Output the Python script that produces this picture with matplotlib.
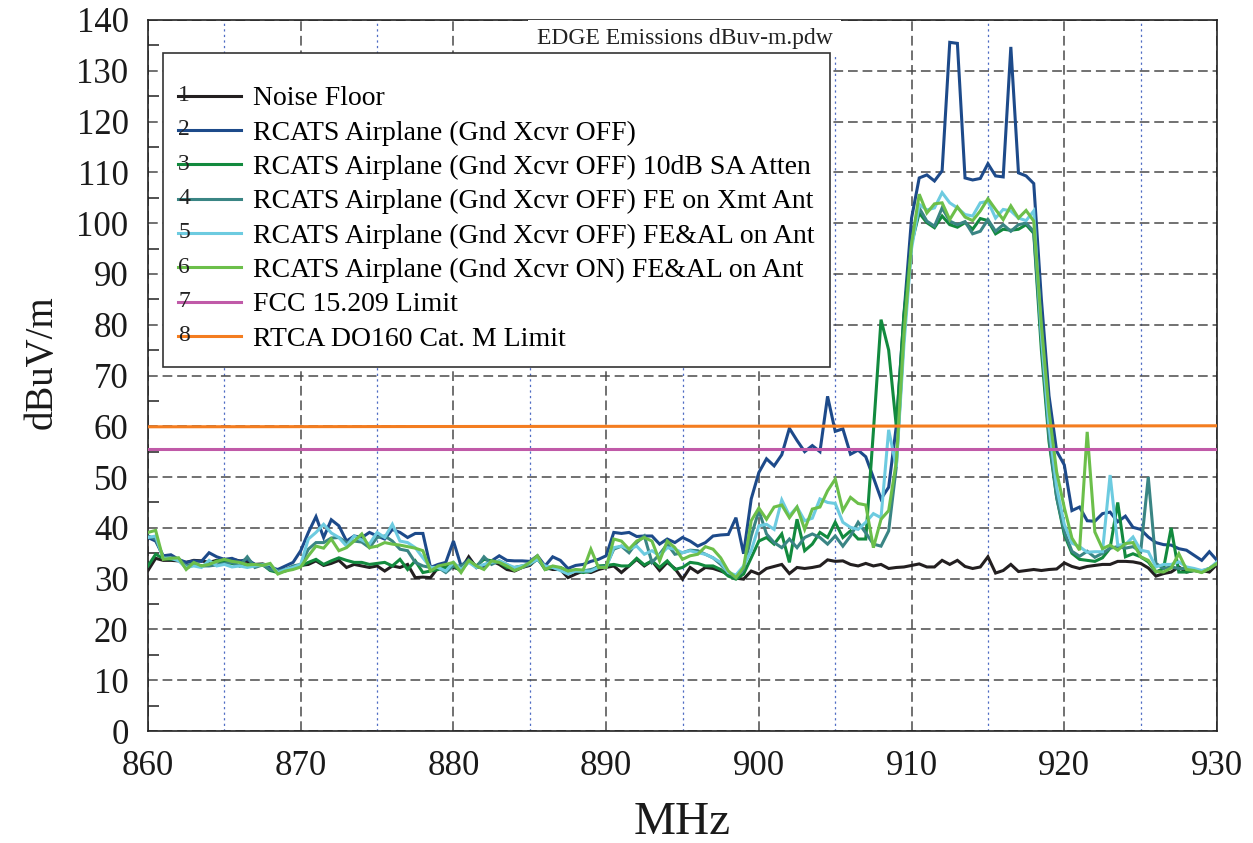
import numpy as np
import matplotlib
matplotlib.use("Agg")
import matplotlib.pyplot as plt
from matplotlib.legend_handler import HandlerLine2D
from matplotlib.text import Text
from matplotlib.ticker import MultipleLocator

plt.rcParams['font.family'] = ['Liberation Serif', 'DejaVu Serif']
plt.rcParams['lines.scale_dashes'] = False

# ---------------- data ----------------
freq_start, freq_stop, n_points = 860.0, 930.0, 141
freq = np.linspace(freq_start, freq_stop, n_points)   # sweep grid, 0.5 MHz steps

noise_floor = [
    31.6, 34.0, 33.6, 33.6, 33.5, 33.2, 33.6, 33.5, 33.2, 33.6,
    33.4, 33.8, 33.5, 33.4, 32.8, 32.9, 32.5, 31.5, 31.8, 32.2,
    32.6, 32.8, 33.5, 32.6, 33.0, 33.6, 32.2, 32.8, 32.5, 32.2,
    32.5, 31.5, 32.5, 32.2, 32.8, 30.2, 30.3, 30.2, 32.2, 32.5,
    32.2, 31.8, 34.3, 32.2, 32.5, 33.5, 32.8, 31.8, 31.5, 32.2,
    32.6, 34.0, 32.2, 31.8, 31.8, 30.2, 30.9, 31.5, 31.2, 31.8,
    32.2, 32.5, 31.2, 32.5, 33.8, 32.5, 33.5, 31.6, 33.2, 32.0,
    29.9, 32.2, 31.2, 32.2, 32.0, 31.5, 30.9, 30.1, 29.9, 31.5,
    30.9, 32.0, 32.4, 32.8, 31.0, 32.2, 32.0, 32.2, 32.5, 33.7,
    33.4, 33.5, 32.8, 32.5, 33.0, 32.5, 32.8, 32.0, 32.2, 32.3,
    32.6, 32.9, 32.3, 32.3, 33.6, 32.8, 33.6, 32.4, 32.0, 32.3,
    34.3, 31.1, 31.6, 32.8, 31.4, 31.6, 31.8, 31.6, 31.8, 31.9,
    33.1, 32.4, 32.0, 32.4, 32.6, 32.8, 32.8, 33.4, 33.4, 33.3,
    33.0, 32.1, 30.5, 31.0, 31.3, 32.3, 31.3, 31.6, 31.6, 31.3,
    32.8]

gnd_off = [
    38.1, 37.4, 34.5, 34.7, 33.8, 33.2, 33.5, 33.4, 35.1, 34.3,
    33.8, 34.0, 33.4, 33.8, 32.8, 32.7, 32.2, 31.8, 32.5, 33.2,
    35.5, 39.1, 42.2, 38.1, 41.6, 40.4, 37.4, 38.4, 38.1, 39.1,
    38.4, 37.8, 39.7, 39.1, 38.1, 38.9, 38.9, 32.2, 32.8, 33.2,
    37.4, 32.5, 33.8, 32.2, 32.5, 33.5, 34.5, 33.6, 33.5, 33.5,
    33.4, 34.5, 32.5, 34.3, 33.6, 32.0, 32.6, 32.8, 33.4, 33.8,
    34.5, 39.1, 38.9, 39.1, 38.3, 38.4, 38.4, 36.8, 37.8, 37.1,
    38.1, 37.4, 36.4, 37.1, 38.4, 38.6, 38.7, 42.0, 34.9, 45.7,
    50.9, 53.6, 52.2, 54.4, 59.6, 57.2, 55.0, 56.2, 55.0, 65.9,
    59.0, 59.5, 54.5, 55.3, 54.0, 49.9, 45.7, 48.0, 60.0, 82.0,
    101.0, 108.9, 109.5, 108.3, 110.3, 135.6, 135.4, 108.9, 108.5, 108.8,
    111.7, 109.3, 109.1, 134.7, 109.9, 109.3, 107.8, 85.0, 66.0, 55.1,
    52.4, 43.4, 44.1, 41.4, 41.3, 42.8, 43.1, 41.2, 42.3, 40.1,
    39.7, 38.2, 37.1, 36.7, 36.6, 35.9, 35.6, 34.6, 33.6, 35.3,
    33.6]

gnd_off_10db = [
    32.5, 34.8, 34.0, 33.8, 34.0, 32.0, 32.8, 32.5, 32.7, 33.5,
    33.2, 33.0, 32.5, 32.8, 32.5, 32.8, 31.6, 31.2, 31.5, 32.2,
    32.5, 33.2, 33.8, 32.8, 33.5, 34.1, 33.6, 33.2, 33.2, 32.8,
    33.0, 33.2, 32.5, 33.8, 31.8, 33.5, 31.2, 31.5, 31.8, 32.2,
    32.5, 31.5, 33.5, 32.5, 33.8, 33.5, 33.2, 32.2, 32.2, 32.5,
    32.8, 34.1, 31.8, 32.2, 32.2, 31.5, 31.5, 31.2, 31.5, 32.5,
    32.6, 32.8, 32.5, 32.5, 34.0, 32.7, 33.5, 32.2, 33.5, 31.8,
    32.2, 33.2, 33.0, 32.5, 32.5, 31.8, 30.5, 29.9, 30.9, 34.1,
    37.4, 38.1, 36.8, 38.8, 33.2, 41.7, 35.5, 36.8, 39.1, 38.1,
    41.1, 38.1, 39.4, 37.8, 37.8, 59.0, 81.0, 75.0, 60.0, 82.0,
    96.0, 102.0, 100.1, 99.1, 101.4, 99.7, 99.2, 100.1, 98.8, 100.9,
    100.5, 97.9, 98.8, 98.6, 98.8, 99.7, 98.0, 75.0, 57.0, 46.0,
    38.7, 35.0, 33.8, 33.6, 33.4, 34.1, 36.0, 45.0, 34.3, 34.9,
    34.3, 33.3, 31.3, 32.0, 40.0, 31.3, 31.3, 31.6, 31.3, 32.0,
    33.0]

gnd_off_fe_xmt = [
    38.4, 37.8, 34.1, 34.1, 33.8, 32.5, 33.0, 32.5, 32.5, 32.7,
    33.0, 33.2, 32.5, 34.3, 32.2, 32.7, 31.8, 31.5, 31.8, 32.5,
    32.8, 35.8, 37.1, 37.1, 38.0, 38.1, 37.1, 37.4, 37.2, 36.1,
    38.1, 38.4, 37.4, 35.8, 35.5, 33.2, 32.5, 32.2, 32.2, 31.2,
    32.5, 32.5, 33.5, 32.2, 34.3, 32.8, 33.5, 32.8, 31.8, 32.2,
    32.8, 33.8, 32.2, 32.3, 31.8, 31.2, 31.5, 31.5, 31.8, 32.2,
    32.5, 35.8, 36.4, 35.1, 37.1, 38.4, 33.2, 34.8, 36.8, 34.8,
    35.1, 35.6, 35.5, 34.8, 34.1, 32.8, 31.2, 30.2, 31.8, 38.4,
    43.4, 38.8, 37.1, 36.1, 37.8, 36.1, 38.1, 38.8, 38.1, 36.8,
    38.4, 36.4, 38.4, 41.1, 39.0, 36.8, 36.4, 39.4, 52.0, 78.0,
    96.0, 103.0, 100.4, 99.4, 103.0, 100.4, 99.7, 100.3, 97.9, 98.4,
    100.7, 98.4, 99.7, 98.4, 99.7, 100.0, 98.4, 77.0, 58.0, 46.0,
    39.3, 35.4, 34.4, 35.4, 34.2, 35.0, 36.0, 36.3, 36.0, 36.3,
    35.3, 50.0, 33.0, 32.0, 32.3, 32.0, 32.0, 31.6, 31.5, 32.0,
    33.0]

gnd_off_feal = [
    38.1, 38.4, 34.0, 34.0, 33.5, 32.2, 32.5, 32.2, 33.6, 32.5,
    32.8, 32.3, 32.5, 32.2, 32.5, 32.7, 32.8, 31.2, 31.8, 32.2,
    32.8, 37.8, 39.1, 40.7, 39.0, 38.1, 36.4, 38.4, 37.6, 36.8,
    39.1, 38.1, 40.7, 37.4, 37.1, 36.1, 34.1, 32.2, 32.2, 31.5,
    33.2, 31.8, 33.2, 32.2, 32.8, 33.2, 33.5, 32.8, 32.2, 32.5,
    33.0, 33.8, 32.5, 32.2, 31.6, 30.9, 31.5, 31.5, 31.5, 32.2,
    32.2, 36.1, 36.4, 35.8, 36.4, 34.8, 35.5, 34.5, 36.1, 35.8,
    35.1, 35.5, 35.1, 34.8, 34.1, 33.2, 31.2, 30.7, 32.5, 35.5,
    40.4, 40.7, 39.7, 45.5, 42.4, 44.1, 41.4, 41.9, 45.7, 45.0,
    44.8, 41.1, 40.1, 39.7, 41.1, 42.8, 42.0, 59.3, 52.0, 76.0,
    95.0, 103.7, 102.6, 103.0, 106.0, 104.0, 103.0, 101.7, 101.4, 104.0,
    104.3, 101.0, 102.7, 102.4, 101.0, 100.5, 102.4, 78.0, 60.0, 48.0,
    40.7, 37.0, 36.3, 35.2, 35.3, 35.3, 50.4, 36.6, 36.7, 38.2,
    35.6, 35.3, 32.3, 32.8, 32.8, 33.3, 32.3, 32.0, 31.6, 32.0,
    33.3]

gnd_on_feal = [
    39.1, 39.5, 33.8, 34.0, 34.1, 31.8, 33.2, 32.5, 32.8, 33.4,
    33.8, 33.4, 33.2, 32.7, 32.8, 32.6, 33.0, 30.9, 31.5, 31.8,
    32.3, 34.5, 36.4, 36.0, 37.8, 35.5, 36.1, 37.4, 38.8, 36.1,
    36.4, 37.1, 36.8, 36.6, 36.3, 36.0, 35.5, 31.5, 32.5, 32.8,
    33.2, 31.2, 33.6, 32.5, 31.8, 33.5, 33.2, 32.5, 31.6, 32.2,
    33.2, 34.5, 31.8, 32.5, 32.2, 31.5, 31.8, 31.7, 35.8, 32.2,
    32.2, 37.8, 37.4, 35.8, 37.4, 38.1, 37.4, 33.5, 37.4, 36.1,
    33.8, 34.5, 34.8, 36.3, 35.8, 34.1, 31.5, 30.2, 32.2, 41.4,
    43.9, 41.7, 44.1, 44.5, 42.0, 44.1, 39.7, 43.7, 44.1, 47.3,
    49.6, 43.4, 46.0, 44.8, 44.5, 36.1, 41.7, 43.4, 53.0, 78.0,
    96.0, 105.7, 102.0, 103.8, 104.0, 100.7, 103.2, 101.2, 100.5, 102.4,
    104.8, 102.7, 100.7, 103.4, 101.0, 102.5, 100.4, 80.0, 63.0, 51.0,
    44.0, 38.0, 35.6, 58.9, 39.2, 35.9, 36.6, 35.6, 36.9, 37.1,
    34.3, 33.6, 31.4, 31.3, 32.1, 34.9, 31.8, 31.6, 31.2, 32.0,
    33.0]

limit_freq = [860.0, 930.0]
fcc_limit = [55.6, 55.6]
rtca_limit = [59.9, 60.1]

labels = [
    "Noise Floor",
    "RCATS Airplane (Gnd Xcvr OFF)",
    "RCATS Airplane (Gnd Xcvr OFF) 10dB SA Atten",
    "RCATS Airplane (Gnd Xcvr OFF) FE on Xmt Ant",
    "RCATS Airplane (Gnd Xcvr OFF) FE&AL on Ant",
    "RCATS Airplane (Gnd Xcvr ON) FE&AL on Ant",
    "FCC 15.209 Limit",
    "RTCA DO160 Cat. M Limit",
]
colors = ['#231f20', '#1d4a8a', '#128a3e', '#3a8584', '#6dcbe0',
          '#6cbf4a', '#c05aa8', '#f47d20']

x_ticks = [860, 870, 880, 890, 900, 910, 920, 930]
y_ticks = list(range(0, 141, 10))

# ---------------- figure ----------------
fig = plt.figure(figsize=(12.53, 8.43), dpi=100)
ax = fig.add_axes([148 / 1253, 112 / 843, 1069 / 1253, 711 / 843])

series = [noise_floor, gnd_off, gnd_off_10db, gnd_off_fe_xmt,
          gnd_off_feal, gnd_on_feal]
handles = []
for i, s in enumerate(series):
    ln, = ax.plot(freq, s, color=colors[i], lw=2.2, label=labels[i],
                  solid_joinstyle='miter', zorder=3)
    handles.append(ln)
ln, = ax.plot(limit_freq, fcc_limit, color=colors[6], lw=2.2, label=labels[6], zorder=3)
handles.append(ln)
ln, = ax.plot(limit_freq, rtca_limit, color=colors[7], lw=2.2, label=labels[7], zorder=3)
handles.append(ln)

ax.set_xlim(860, 930)
ax.set_ylim(0, 140)
ax.set_xticks(x_ticks)
ax.set_yticks(y_ticks)
ax.xaxis.set_minor_locator(MultipleLocator(5))
ax.yaxis.set_minor_locator(MultipleLocator(5))
ax.set_axisbelow(True)

ax.grid(True, which='major', axis='both', color='#4a4a4a', lw=1.1,
        linestyle=(0, (7, 3.5)))
ax.grid(True, which='minor', axis='x', color='#4f6cc4', lw=0.9,
        linestyle=(0, (1.6, 2.4)))

ax.tick_params(axis='both', which='major', direction='in', length=0,
               labelsize=25, colors='#1a1a1a')
ax.tick_params(axis='y', which='major', pad=14)
ax.tick_params(axis='x', which='major', pad=14)
ax.tick_params(axis='y', which='minor', direction='in', length=8, width=1.1,
               color='#222222')
ax.tick_params(axis='x', which='minor', length=0)

for sp in ax.spines.values():
    sp.set_linewidth(1.2)
    sp.set_color('#222222')

ax.set_xlabel("MHz", fontsize=34, color='#1a1a1a')
ax.xaxis.set_label_coords(0.5, -0.099)
ax.set_ylabel("dBuV/m", fontsize=28, color='#1a1a1a')
ax.yaxis.set_label_coords(-0.082, 0.519)

ax.text(0.502, 0.974, "EDGE Emissions dBuv-m.pdw", transform=ax.transAxes,
        ha='center', va='center', fontsize=17, color='#222222', zorder=5,
        bbox=dict(facecolor='white', edgecolor='none',
                  boxstyle='square,pad=0.35'))


class NumberedLine(HandlerLine2D):
    def __init__(self, num, **kw):
        super().__init__(**kw)
        self.num = num

    def create_artists(self, legend, orig_handle, xdescent, ydescent,
                       width, height, fontsize, trans):
        arts = super().create_artists(legend, orig_handle, xdescent, ydescent,
                                      width, height, fontsize, trans)
        t = Text(-xdescent, height / 2 - ydescent, self.num,
                 fontsize=fontsize * 0.85, ha='left', va='center',
                 color='#222222', family='Liberation Serif')
        t.set_transform(trans)
        return list(arts) + [t]


hmap = {h: NumberedLine(str(i + 1)) for i, h in enumerate(handles)}
leg = ax.legend(handles=handles, handler_map=hmap, loc='upper left',
                bbox_to_anchor=(0.014, 0.954), fontsize=20,
                frameon=True, fancybox=False, framealpha=1,
                edgecolor='#333333', borderpad=0.55, labelspacing=0.32,
                handlelength=2.25, handletextpad=0.45, borderaxespad=0,
                title=' ', title_fontsize=7.5)
leg.get_frame().set_linewidth(1.2)
leg.set_zorder(6)

fig.savefig("out.png", dpi=100)
